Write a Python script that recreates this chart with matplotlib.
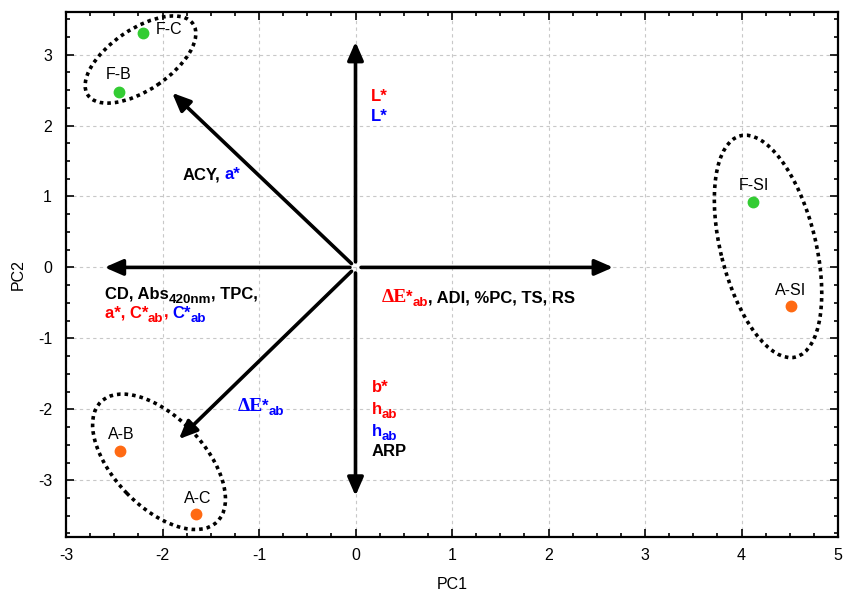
import numpy as np
import matplotlib
matplotlib.use('Agg')
import matplotlib.pyplot as plt
import matplotlib.transforms as mtransforms
from matplotlib.patches import Ellipse
from matplotlib.ticker import MultipleLocator

plt.rcParams['font.family'] = ['Liberation Sans', 'DejaVu Sans']
plt.rcParams['axes.unicode_minus'] = False

# ---------------- data ----------------
sample_names = ['F-C', 'F-B', 'F-SI', 'A-SI', 'A-B', 'A-C']
sample_pc1 = [-2.20, -2.45, 4.12, 4.51, -2.44, -1.65]
sample_pc2 = [3.30, 2.47, 0.915, -0.55, -2.59, -3.48]
sample_colors = ['#33cc33', '#33cc33', '#33cc33', '#ff6a13', '#ff6a13', '#ff6a13']
# label offsets (pixels) relative to the point
label_dx = [26, 0, 1, 0, 1, 1]
label_dy = [4, 18, 17, 16, 17, 16]

# loading arrows (tip coordinates)
arrow_pc1 = [0.0, 0.0, 2.67, -2.60, -1.90, -1.83]
arrow_pc2 = [3.18, -3.22, 0.0, 0.0, 2.46, -2.42]

# group ellipses: centre (data), width/height (pixels), angle (deg)
ell_cx = [-2.228, -2.036, 4.275]
ell_cy = [2.93, -2.74, 0.296]
ell_w = [127, 167, 228]
ell_h = [61, 90, 95]
ell_ang = [34, -46, -76]

xticks = [-3, -2, -1, 0, 1, 2, 3, 4, 5]
yticks = [-3, -2, -1, 0, 1, 2, 3]

RED = '#ff0000'
BLUE = '#0000ff'
BLACK = '#000000'

fig = plt.figure(figsize=(8.5, 5.96), dpi=100)
ax = fig.add_axes([66 / 850, 1 - 537 / 596, (838 - 66) / 850, (537 - 12) / 596])
ax.set_xlim(-3, 5)
ax.set_ylim(-3.8, 3.6)
ax.set_xticks(xticks)
ax.set_yticks(yticks)
ax.set_xticklabels([str(t) for t in xticks])
ax.set_yticklabels([str(t) for t in yticks])
ax.xaxis.set_minor_locator(MultipleLocator(0.25))
ax.yaxis.set_minor_locator(MultipleLocator(0.25))
ax.tick_params(which='both', direction='in', top=True, right=True, width=1.2)
ax.tick_params(which='major', length=5.5, labelsize=11.5, pad=8)
ax.tick_params(axis='y', which='major', pad=10)
ax.tick_params(which='minor', length=3)
for s in ax.spines.values():
    s.set_linewidth(1.6)
ax.grid(True, which='major', color='#c8c8c8', linestyle=(0, (3, 3)), linewidth=0.8)
ax.set_axisbelow(True)
ax.set_xlabel('PC1', fontsize=11.5, labelpad=10)
ax.set_ylabel('PC2', fontsize=11.5, labelpad=9)

# arrows
for xa, ya in zip(arrow_pc1, arrow_pc2):
    ax.annotate('', xy=(xa, ya), xytext=(0, 0),
                arrowprops=dict(arrowstyle='-|>,head_length=0.55,head_width=0.24',
                                lw=2.6, color='black', mutation_scale=20,
                                shrinkA=4, shrinkB=0))

# ellipses
for cx, cy, w, h, a in zip(ell_cx, ell_cy, ell_w, ell_h, ell_ang):
    tr = mtransforms.IdentityTransform() + mtransforms.ScaledTranslation(cx, cy, ax.transData)
    e = Ellipse((0, 0), w, h, angle=a, transform=tr, fill=False,
                edgecolor='black', linewidth=2.6, linestyle=(0, (1, 1.1)))
    ax.add_patch(e)

# points
for n, x, y, c, dx, dy in zip(sample_names, sample_pc1, sample_pc2, sample_colors, label_dx, label_dy):
    ax.plot([x], [y], 'o', color=c, markersize=7.5, zorder=5)
    ax.annotate(n, xy=(x, y), xytext=(dx, dy), textcoords='offset pixels',
                ha='center', va='center', fontsize=11.5)

renderer = fig.canvas.get_renderer()
FS = 12.0      # label font size
SUB = 0.8      # subscript scale
SUBDY = -4     # subscript baseline shift, pixels
SP = 4         # gap after a comma, pixels


def rich(x, y, segs):
    """segs: (text, colour, kind, gap_px); kind: 'n' normal, 's' subscript, 'g' serif greek"""
    off = 0.0
    for s, c, kind, gap in segs:
        off += gap
        size, dy, fam = FS, 0, None
        if kind == 's':
            size, dy = FS * SUB, SUBDY
        elif kind == 'g':
            size, fam = FS + 2, 'Liberation Serif'
        kw = dict(fontsize=size, color=c, va='baseline', ha='left', fontweight='bold')
        if fam is not None:
            kw['family'] = fam
        t = ax.text(x, y, s,
                    transform=mtransforms.offset_copy(ax.transData, fig=fig, x=off, y=dy, units='dots'),
                    **kw)
        off += t.get_window_extent(renderer).width


rich(0.155, 2.35, [('L*', RED, 'n', 0)])
rich(0.155, 2.06, [('L*', BLUE, 'n', 0)])
rich(-1.79, 1.24, [('ACY,', BLACK, 'n', 0), ('a*', BLUE, 'n', SP)])
rich(-2.60, -0.44, [('CD, Abs', BLACK, 'n', 0), ('420nm', BLACK, 's', 0), (', TPC,', BLACK, 'n', 0)])
rich(-2.60, -0.71, [('a*, C*', RED, 'n', 0), ('ab', RED, 's', 0), (',', RED, 'n', 0),
                    ('C*', BLUE, 'n', SP), ('ab', BLUE, 's', 0)])
rich(0.27, -0.49, [('ΔE', RED, 'g', 0), ('*', RED, 'n', -1), ('ab', RED, 's', 0),
                   (', ADI, %PC, TS, RS', BLACK, 'n', 0)])
rich(-1.22, -2.02, [('ΔE', BLUE, 'g', 0), ('*', BLUE, 'n', -1), ('ab', BLUE, 's', 0)])
rich(0.17, -1.76, [('b*', RED, 'n', 0)])
rich(0.17, -2.06, [('h', RED, 'n', 0), ('ab', RED, 's', 0)])
rich(0.17, -2.38, [('h', BLUE, 'n', 0), ('ab', BLUE, 's', 0)])
rich(0.17, -2.66, [('ARP', BLACK, 'n', 0)])

fig.savefig('out.png', dpi=100)
